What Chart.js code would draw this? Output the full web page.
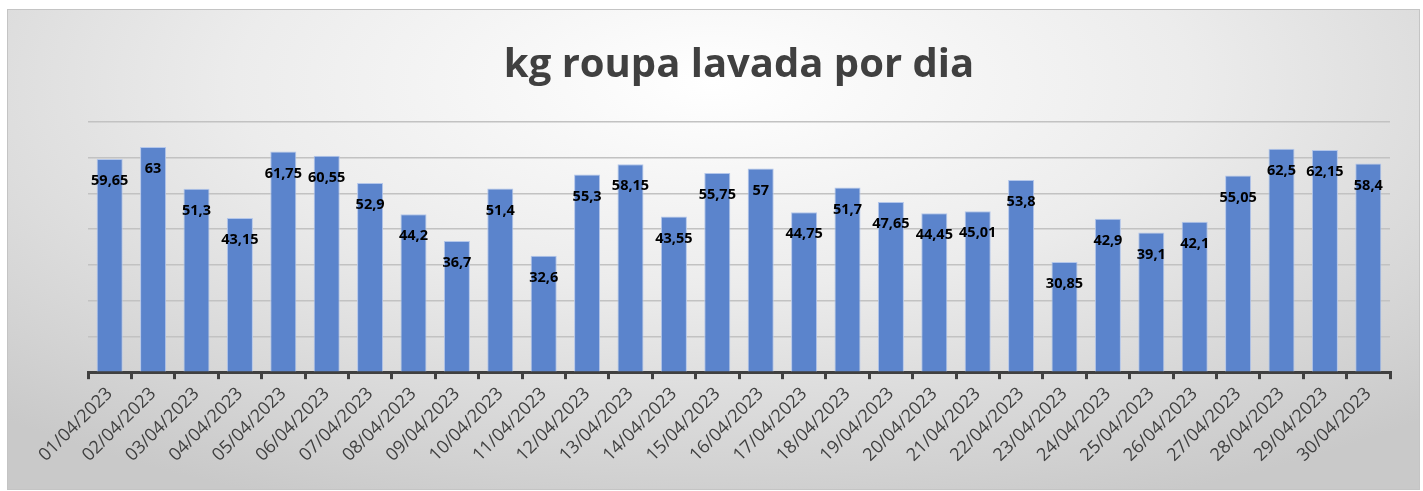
<!DOCTYPE html>
<html>
<head>
<meta charset="utf-8">
<script src="https://cdn.jsdelivr.net/npm/chart.js@4/dist/chart.umd.min.js"></script>
<style>
  html, body { margin: 0; padding: 0; background: #fff; }
  #box {
    position: absolute; left: 7px; top: 9px; width: 1413px; height: 481px;
    box-sizing: border-box; border: 1px solid #c4c4c4;
    background: radial-gradient(ellipse 75% 95% at 50% 15%, #ffffff 0%, #ececec 45%, #c9c9c9 100%);
  }
</style>
</head>
<body>
<div id="box"><canvas id="chart"></canvas></div>
<script>
const days = ['01/04/2023', '02/04/2023', '03/04/2023', '04/04/2023', '05/04/2023', '06/04/2023',
    '07/04/2023', '08/04/2023', '09/04/2023', '10/04/2023', '11/04/2023', '12/04/2023',
    '13/04/2023', '14/04/2023', '15/04/2023', '16/04/2023', '17/04/2023', '18/04/2023',
    '19/04/2023', '20/04/2023', '21/04/2023', '22/04/2023', '23/04/2023', '24/04/2023',
    '25/04/2023', '26/04/2023', '27/04/2023', '28/04/2023', '29/04/2023', '30/04/2023'];

const kgWashed = [59.65, 63, 51.3, 43.15, 61.75, 60.55, 52.9, 44.2, 36.7, 51.4,
    32.6, 55.3, 58.15, 43.55, 55.75, 57, 44.75, 51.7, 47.65, 44.45,
    45.01, 53.8, 30.85, 42.9, 39.1, 42.1, 55.05, 62.5, 62.15, 58.4];

const titleText = 'kg roupa lavada por dia';

// values written inside each bar, pt-BR style (comma decimals)
const barLabels = {
    id: 'barLabels',
    afterDatasetsDraw(chart) {
        const ctx = chart.ctx;
        const meta = chart.getDatasetMeta(0);
        ctx.save();
        ctx.font = 'bold 14.5px "Open Sans"';
        ctx.fillStyle = '#000';
        ctx.textAlign = 'center';
        ctx.textBaseline = 'middle';
        meta.data.forEach((bar, i) => {
            const txt = String(kgWashed[i]).replace('.', ',');
            ctx.fillText(txt, bar.x, bar.y + 22);
        });
        ctx.restore();
    }
};

new Chart(document.getElementById('chart'), {
    type: 'bar',
    data: {
        labels: days,
        datasets: [{
            data: kgWashed,
            backgroundColor: '#5b84cc',
            borderColor: '#b3c6ea',
            borderWidth: 1,
            categoryPercentage: 1,
            barPercentage: 0.6
        }]
    },
    options: {
        responsive: true,
        maintainAspectRatio: false,
        animation: false,
        layout: { padding: { left: 80, right: 29, top: 10, bottom: 19 } },
        plugins: {
            legend: { display: false },
            tooltip: { enabled: false },
            title: {
                display: true,
                text: titleText,
                color: '#404040',
                font: { family: '"Open Sans"', size: 40, weight: 'bold' },
                padding: { top: 22, bottom: 32 }
            }
        },
        scales: {
            x: {
                grid: {
                    offset: true,
                    drawOnChartArea: false,
                    drawTicks: true,
                    tickLength: 7,
                    color: '#404040',
                    lineWidth: 3
                },
                border: { color: '#404040', width: 3 },
                ticks: {
                    color: '#404040',
                    font: { family: '"Open Sans"', size: 18 },
                    minRotation: 45,
                    maxRotation: 45,
                    autoSkip: false,
                    padding: 4
                }
            },
            y: {
                min: 0,
                max: 70,
                ticks: { stepSize: 10, display: false },
                grid: { color: '#c2c2c2', lineWidth: 1.5, drawTicks: false },
                border: { display: false }
            }
        }
    },
    plugins: [barLabels]
});
</script>
</body>
</html>
